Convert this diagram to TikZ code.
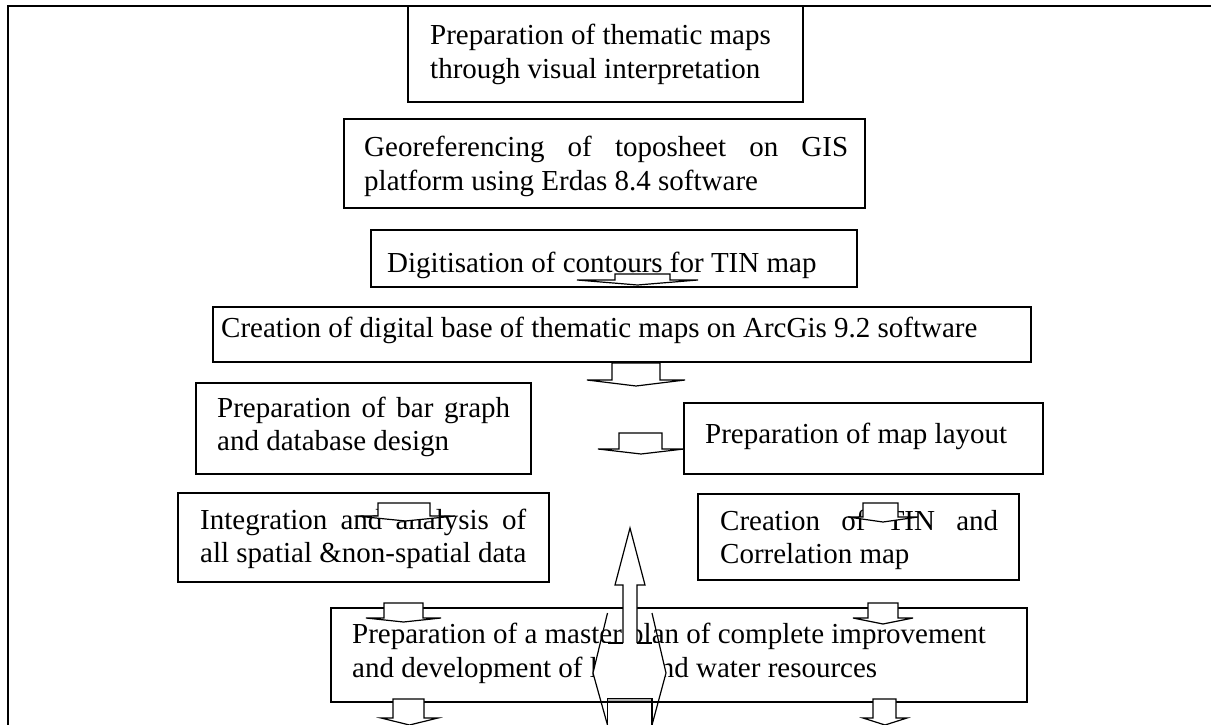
\documentclass[tikz,border=0pt]{standalone}
\usepackage{fontspec}
\setmainfont{Liberation Serif}
\newcommand\flatarrow[7]{%
  \draw[barrow] (#1,#3) -- (#2,#3) -- (#2,#4) -- (#6,#4) -- ({(#5+#6)/2},#7) -- (#5,#4) -- (#1,#4) -- cycle;}
\begin{document}
\begin{tikzpicture}[x=1pt,y=-1pt,
  box/.style={draw=black,line width=1.5pt,fill=white,anchor=north west,inner sep=0pt,outer sep=0pt},
  txt/.style={anchor=base west,inner sep=0pt,font=\fontsize{29}{33}\selectfont},
  barrow/.style={draw=black,line width=1.2pt,fill=white,line join=miter},
  shapeline/.style={draw=black,line width=1.2pt},
  frameline/.style={line width=2.6pt}]
\useasboundingbox (0,0) rectangle (1211,725);

% outer frame
\coordinate (fbl) at (8,725);
\coordinate (ftl) at (8,6);
\coordinate (ftr) at (1211,6);
\draw[frameline] (fbl) -- (ftl) -- (ftr);

% boxes
\node[box,minimum width=395pt,minimum height=96pt] (b1) at (408,6) {};
\node[box,minimum width=521pt,minimum height=89pt] (b2) at (344,119) {};
\node[box,minimum width=486pt,minimum height=57pt] (b3) at (371,230) {};
\node[box,minimum width=818pt,minimum height=55pt] (b4) at (213,307) {};
\node[box,minimum width=335pt,minimum height=91pt] (b5) at (196,383) {};
\node[box,minimum width=359pt,minimum height=71pt] (b6) at (684,403) {};
\node[box,minimum width=371pt,minimum height=89pt] (b7) at (178,493) {};
\node[box,minimum width=321pt,minimum height=86pt] (b8) at (698,494) {};
\node[box,minimum width=696pt,minimum height=94pt] (b9) at (331,608) {};

% texts
\node[txt] (t1a) at (430,45) {Preparation of thematic maps};
\node[txt] (t1b) at (430,78) {through visual interpretation};
\node[txt] (t2a) at (364,157) {\hbox to 484pt{Georeferencing\hfill of\hfill toposheet\hfill on\hfill GIS}};
\node[txt] (t2b) at (364,190) {platform using Erdas 8.4 software};
\node[txt] (t3) at (387,272) {Digitisation of contours for TIN map};
\node[txt] (t4) at (221,337) {Creation of digital base of thematic maps on ArcGis 9.2 software};
\node[txt] (t5a) at (217,417) {\hbox to 293pt{Preparation\hfill of\hfill bar\hfill graph}};
\node[txt] (t5b) at (217,450) {and database design};
\node[txt] (t6) at (705,443) {Preparation of map layout};
\node[txt] (t7a) at (200,529) {\hbox to 326pt{Integration\hfill and\hfill analysis\hfill of}};
\node[txt] (t7b) at (200,562) {all spatial \&non-spatial data};
\node[txt] (t8a) at (720,530) {\hbox to 278pt{Creation\hfill of\hfill TIN\hfill and}};
\node[txt] (t8b) at (720,563) {Correlation map};
\node[txt] (t9a) at (352,643) {Preparation of a master plan of complete improvement};
\node[txt] (t9b) at (352,677) {and development of land and water resources};

% small block arrows
\flatarrow{615}{670}{274}{280}{577}{698}{285}
\flatarrow{612}{660}{363}{380}{587}{685}{386}
\flatarrow{619}{662}{433}{449}{598}{684}{454}
\flatarrow{378}{430}{503}{516}{356}{455}{521}
\flatarrow{863}{898}{503}{517}{848}{918}{522}
\flatarrow{384}{423}{603}{618}{366}{441}{622}
\flatarrow{868}{898}{603}{618}{853}{913}{624}
\flatarrow{393}{424}{699}{718}{381}{438}{725}
\flatarrow{873}{896}{699}{718}{863}{907}{725}

% big central shapes
\fill[white] (600.25,643) -- (659.25,643) -- (666,673) -- (659.3,698) -- (600,698) -- (593,673) -- cycle;
\fill[white] (623,643) -- (623,585) -- (615,585) -- (630,528) -- (645,585) -- (637,585) -- (637,643) -- cycle;
\draw[shapeline,line join=miter] (623,643) -- (623,585) -- (615,585) -- (630,528) -- (645,585) -- (637,585) -- (637,643);
\draw[shapeline] (607.5,643) -- (623,643) (637,643) -- (652,643);
\draw[shapeline,line join=miter] (607.5,613) -- (593,673) -- (607.5,725);
\draw[shapeline,line join=miter] (652,613) -- (666,673) -- (652,725);
\draw[shapeline,fill=gray!60] (607.5,698.5) rectangle (652,702);
\draw[shapeline] (607.5,702) -- (607.5,725) (652,702) -- (652,725);
\end{tikzpicture}
\end{document}
